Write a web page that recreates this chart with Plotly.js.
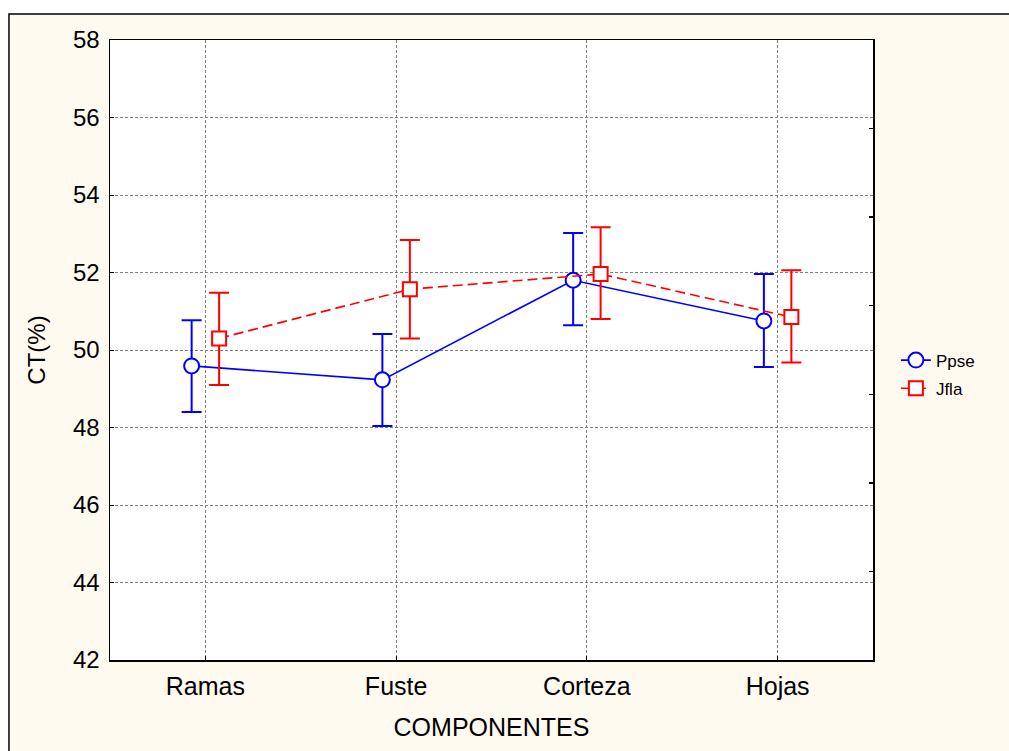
<!DOCTYPE html>
<html>
<head>
<meta charset="utf-8">
<script src="https://cdn.plot.ly/plotly-3.0.1.min.js"></script>
<style>
  html, body { margin: 0; padding: 0; background: #ffffff; }
  #chart { width: 1009px; height: 751px; }
</style>
</head>
<body>
<div id="chart"></div>
<script>
// Plant components on the x axis
const categories = ['Ramas', 'Fuste', 'Corteza', 'Hojas'];

// Ppse: mean total carbon (%) and confidence limits
const ppseMean  = [49.59, 49.23, 51.80, 50.75];
const ppseUpper = [50.77, 50.41, 53.02, 51.96];
const ppseLower = [48.40, 48.04, 50.64, 49.56];

// Jfla: mean total carbon (%) and confidence limits
const jflaMean  = [50.30, 51.57, 51.96, 50.85];
const jflaUpper = [51.48, 52.84, 53.17, 52.06];
const jflaLower = [49.10, 50.30, 50.80, 49.68];

const yTicks = [42, 44, 46, 48, 50, 52, 54, 56, 58];

// side-by-side offset of the two series around each category
const shift = 0.072;
const idx = categories.map((c, i) => i);

function errArrays(mean, upper, lower) {
  return {
    type: 'data', symmetric: false,
    array: mean.map((m, i) => upper[i] - m),
    arrayminus: mean.map((m, i) => m - lower[i]),
    thickness: 2, width: 10
  };
}

const ppse = {
  name: 'Ppse', legendgroup: 'a',
  x: idx.map(i => i - shift), y: ppseMean,
  mode: 'lines+markers', type: 'scatter',
  line: { color: '#0000ff', width: 1.6 },
  marker: { symbol: 'circle', size: 15, color: '#ffffff', line: { color: '#0000ff', width: 2 } },
  error_y: Object.assign(errArrays(ppseMean, ppseUpper, ppseLower), { color: '#0000ff' })
};

const jfla = {
  name: 'Jfla', legendgroup: 'b',
  x: idx.map(i => i + shift), y: jflaMean,
  mode: 'lines+markers', type: 'scatter',
  line: { color: '#ff0000', width: 1.6, dash: '10px,5px' },
  marker: { symbol: 'square', size: 14, color: '#ffffff', line: { color: '#ff0000', width: 2 } },
  error_y: Object.assign(errArrays(jflaMean, jflaUpper, jflaLower), { color: '#ff0000' })
};

// extra right-hand scale carrying only inward tick marks
const rightTicks = {
  x: [0], y: [0], yaxis: 'y2', mode: 'markers', type: 'scatter',
  marker: { opacity: 0 }, showlegend: false, hoverinfo: 'skip'
};

const font = { family: 'Liberation Sans, Arial, sans-serif', color: '#000000' };
const cream = '#fffaf0';

const layout = {
  width: 1009, height: 751,
  margin: { l: 110, r: 136, t: 40, b: 91 },
  paper_bgcolor: cream,
  plot_bgcolor: '#ffffff',
  font: Object.assign({ size: 25 }, font),
  showlegend: true,
  legend: {
    x: 1.03, y: 0.512, xanchor: 'left', yanchor: 'top',
    bgcolor: 'rgba(0,0,0,0)', font: Object.assign({ size: 17 }, font),
    tracegroupgap: 3
  },
  xaxis: {
    range: [-0.5, 3.5],
    tickmode: 'array', tickvals: idx, ticktext: categories,
    ticks: 'inside', ticklen: 4, tickcolor: '#000000',
    ticklabelstandoff: 3,
    showline: true, linecolor: '#000000', linewidth: 1.5, mirror: true,
    showgrid: true, gridcolor: '#808080', gridwidth: 1, griddash: '3px,2px',
    zeroline: false,
    tickfont: Object.assign({ size: 25 }, font),
    title: { text: 'COMPONENTES', font: Object.assign({ size: 25 }, font), standoff: 20 },
    automargin: false
  },
  yaxis: {
    range: [42, 58],
    tickmode: 'array', tickvals: yTicks,
    ticks: 'inside', ticklen: 4, tickcolor: '#000000',
    ticklabelstandoff: 4,
    showline: true, linecolor: '#000000', linewidth: 1.5, mirror: true,
    showgrid: true, gridcolor: '#808080', gridwidth: 1, griddash: '3px,2px',
    zeroline: false,
    tickfont: Object.assign({ size: 24 }, font),
    title: { text: 'CT(%)', font: Object.assign({ size: 24 }, font), standoff: 20 },
    automargin: false
  },
  yaxis2: {
    overlaying: 'y', side: 'right', range: [0, 7],
    tickmode: 'array', tickvals: [1, 2, 3, 4, 5, 6],
    ticks: 'inside', ticklen: 4, tickcolor: '#000000', tickwidth: 1.5,
    showticklabels: false, showgrid: false, zeroline: false, showline: false,
    fixedrange: true
  },
  shapes: [
    // white margin above and left of the framed panel
    { type: 'rect', xref: 'paper', yref: 'paper', x0: -0.2, x1: 1.3, y0: 1.042, y1: 1.2,
      fillcolor: '#ffffff', line: { width: 0 } },
    { type: 'rect', xref: 'paper', yref: 'paper', x0: -0.2, x1: -0.1324, y0: -0.2, y1: 1.2,
      fillcolor: '#ffffff', line: { width: 0 } },
    // frame around the panel
    { type: 'rect', xref: 'paper', yref: 'paper', x0: -0.1324, x1: 1.3, y0: -0.3, y1: 1.042,
      fillcolor: 'rgba(0,0,0,0)', line: { color: '#000000', width: 1.5 } }
  ]
};

Plotly.newPlot('chart', [ppse, jfla, rightTicks], layout, { displayModeBar: false, staticPlot: true });
</script>
</body>
</html>
